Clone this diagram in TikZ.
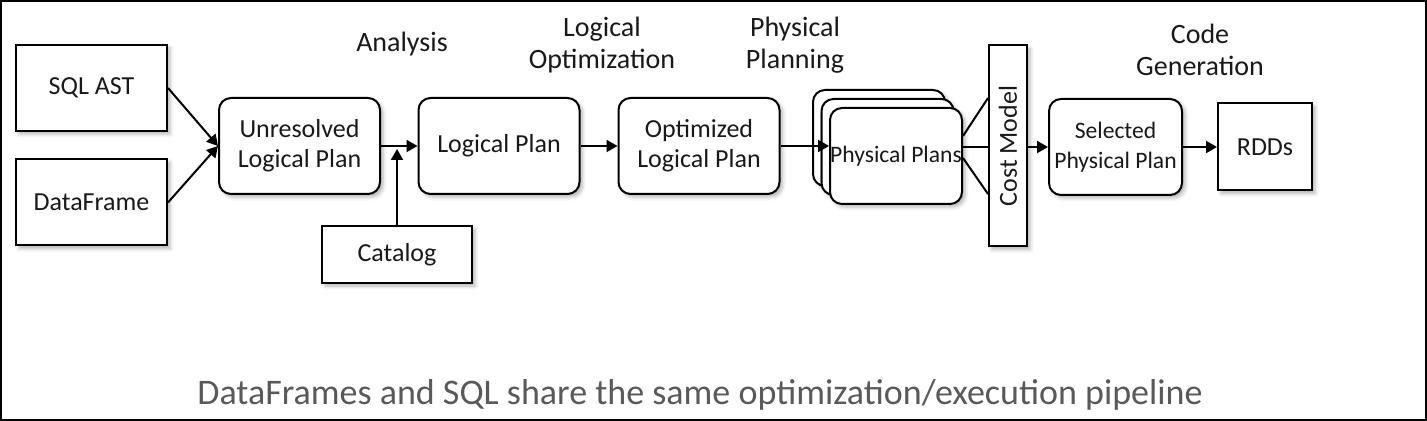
\documentclass[tikz,border=0pt]{standalone}
\usepackage{fontspec}
\setmainfont{Carlito}
\usepackage{tikz}
\usetikzlibrary{arrows.meta,shadows.blur}

\begin{document}
\begin{tikzpicture}[x=0.5pt,y=-0.5pt,
    every node/.style={font=\fontsize{13}{15}\selectfont,text=black!90,align=center,inner sep=0pt},
    box/.style={draw,line width=1pt,fill=white,blur shadow={shadow xshift=1.5pt,shadow yshift=-1.5pt,shadow blur steps=4,shadow opacity=30}},
    plan/.style={box,rounded corners=6pt,minimum width=80.5pt,minimum height=48pt},
    src/.style={box,minimum width=75.5pt,minimum height=43pt},
    tight/.style={font=\fontsize{11.8}{15}\selectfont},
    stage/.style={font=\fontsize{14}{16}\selectfont},
    flow/.style={line width=1pt,-{Triangle[length=5.5pt,width=6pt]}}]
  \useasboundingbox (0,0) rectangle (1427,421);
  \draw[line width=1pt] (1,1) rectangle (1426,420);

  % inputs
  \node[src] (sqlast) at (91.5,88) {SQL AST};
  \node[src] (dataframe) at (91.5,202.5) {DataFrame};
  \node[src,minimum width=75pt,minimum height=28.5pt] (catalog) at (397,254.5) {Catalog};

  % plans
  \node[plan] (unresolved) at (299.5,146) {Unresolved\\Logical Plan};
  \node[plan] (logical) at (499,146) {Logical Plan};
  \node[plan] (optimized) at (699,146) {Optimized\\Logical Plan};
  \node[plan,minimum width=66pt] (phys1) at (879,138) {};
  \node[plan,minimum width=66pt] (phys2) at (887.5,147) {};
  \node[plan,tight,minimum width=66pt] (phys3) at (896,156) {Physical Plans};
  \node[box,rotate=90,minimum width=100.5pt,minimum height=19pt] (costmodel) at (1008,146) {Cost Model};
  \node[plan,tight,minimum width=66.5pt] (selected) at (1115.5,147) {Selected\\Physical Plan};
  \node[box,minimum width=47pt,minimum height=43.5pt] (rdds) at (1265,147) {RDDs};

  % stage labels
  \node[stage] (analysis) at (402,44) {Analysis};
  \node[stage] (logopt) at (602,45) {Logical\\Optimization};
  \node[stage] (physplan) at (795,45) {Physical\\Planning};
  \node[stage] (codegen) at (1200,50) {Code\\Generation};

  % arrows
  \draw[flow] (sqlast.east) -- (unresolved.west);
  \draw[flow] (dataframe.east) -- (unresolved.west);
  \draw[flow] (unresolved.east) -- (logical.west);
  \draw[flow] (catalog.north) -- ([yshift=-1.5pt]catalog.north |- unresolved.east);
  \draw[flow] (logical.east) -- (optimized.west);
  \draw[flow] (optimized.east) -- (optimized.east -| phys3.west);
  \draw[line width=1pt] ([yshift=10pt]phys3.east) -- ([yshift=24pt]costmodel.north);
  \draw[line width=1pt] ([yshift=4.5pt]phys3.east) -- ([yshift=-0.5pt]costmodel.north);
  \draw[line width=1pt] ([yshift=-1pt]phys3.east) -- ([yshift=-24pt]costmodel.north);
  \draw[flow] (costmodel.south |- selected.west) -- (selected.west);
  \draw[flow] (selected.east) -- (rdds.west);

  % caption
  \node[font=\fontsize{18}{20}\selectfont,text=black!65] (caption) at (700,395) {DataFrames and SQL share the same optimization/execution pipeline};
\end{tikzpicture}
\end{document}
